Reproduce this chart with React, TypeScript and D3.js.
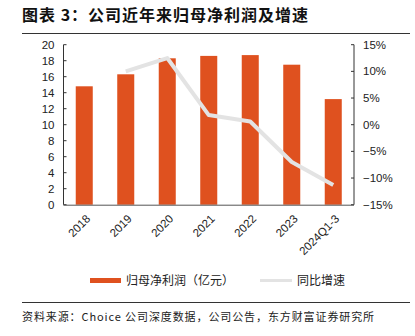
import React from "react";
import * as d3 from "d3";

const categories = ["2018", "2019", "2020", "2021", "2022", "2023", "2024Q1-3"];
const profit = [14.8, 16.3, 18.3, 18.6, 18.7, 17.5, 13.2];
const growth: (number | null)[] = [null, 10.0, 12.5, 1.8, 0.6, -7.0, -11.3];
const leftTicks = [0, 2, 4, 6, 8, 10, 12, 14, 16, 18, 20];
const rightTicks = [-15, -10, -5, 0, 5, 10, 15];
const title = "图表 3：公司近年来归母净利润及增速";
const source = "资料来源：Choice 公司深度数据，公司公告，东方财富证券研究所";
const legendLabels = ["归母净利润（亿元）", "同比增速"];

const W = 415;
const H = 336;
const L = 63.5;
const R = 354;
const T = 44.7;
const B = 204.7;
const barColor = "#DF511F";
const lineColor = "#E3E3E3";
const font = "Liberation Sans, Arial, sans-serif";
const cjk = "'Noto Sans CJK SC', sans-serif";

export default function App() {
  const x = d3.scaleBand<string>().domain(categories).range([L, R]).paddingInner(0.59).paddingOuter(0.295);
  const y = d3.scaleLinear().domain([0, 20]).range([B, T]);
  const y2 = d3.scaleLinear().domain([-15, 15]).range([B, T]);
  const cx = (c: string) => (x(c) as number) + x.bandwidth() / 2;
  const line = d3
    .line<number | null>()
    .defined((d) => d !== null)
    .x((_, i) => cx(categories[i]))
    .y((d) => y2(d as number));

  return (
    <svg width={W} height={H} style={{ position: "absolute", left: 0, top: 0, background: "#fff" }}>
      <text x={22} y={21} fontFamily={cjk} fontSize={16} fontWeight={700} letterSpacing={1} fill="#111">
        {title}
      </text>
      <line x1={22} x2={410} y1={33.5} y2={33.5} stroke="#333" strokeWidth={1} />

      {categories.map((c, i) => (
        <rect key={c} x={x(c)} y={y(profit[i])} width={x.bandwidth()} height={B - y(profit[i])} fill={barColor} />
      ))}

      <path d={line(growth) || ""} fill="none" stroke={lineColor} strokeWidth={4} strokeLinejoin="round" />

      {/* left axis */}
      <line x1={L} x2={L} y1={T} y2={B} stroke="#333" strokeWidth={1} />
      {leftTicks.map((t) => (
        <g key={t}>
          <line x1={L} x2={L + 3} y1={y(t)} y2={y(t)} stroke="#333" />
          <text x={L - 9} y={y(t)} dy="0.35em" textAnchor="end" fontFamily={font} fontSize={11.5} fill="#222">
            {t}
          </text>
        </g>
      ))}
      {/* right axis */}
      <line x1={R} x2={R} y1={T} y2={B} stroke="#333" strokeWidth={1} />
      {rightTicks.map((t) => (
        <g key={t}>
          <line x1={R - 3} x2={R} y1={y2(t)} y2={y2(t)} stroke="#333" />
          <text x={R + 9} y={y2(t)} dy="0.35em" textAnchor="start" fontFamily={font} fontSize={11.5} fill="#222">
            {t < 0 ? "\u2212" + Math.abs(t) : t}%
          </text>
        </g>
      ))}
      {/* bottom axis */}
      <line x1={L} x2={R} y1={B + 0.5} y2={B + 0.5} stroke="#555" strokeWidth={1} />
      {categories.map((c) => (
        <text
          key={c}
          transform={`translate(${cx(c) + 4},${B + 12}) rotate(-45)`}
          textAnchor="end"
          dy="0.35em"
          fontFamily={font}
          fontSize={11.5}
          fill="#222"
        >
          {c}
        </text>
      ))}

      {/* legend */}
      <rect x={90} y={278} width={31} height={5} fill={barColor} />
      <text x={126} y={281} dy="0.35em" fontFamily={cjk} fontSize={12} fill="#222">
        {legendLabels[0]}
      </text>
      <line x1={260} x2={292} y1={280.5} y2={280.5} stroke={lineColor} strokeWidth={3} />
      <text x={297} y={281} dy="0.35em" fontFamily={cjk} fontSize={12} fill="#222">
        {legendLabels[1]}
      </text>

      <line x1={22} x2={410} y1={302.5} y2={302.5} stroke="#333" strokeWidth={1} />
      <text x={22} y={321} fontFamily={cjk} fontSize={11} letterSpacing={0.9} fill="#222">
        {source}
      </text>
    </svg>
  );
}
